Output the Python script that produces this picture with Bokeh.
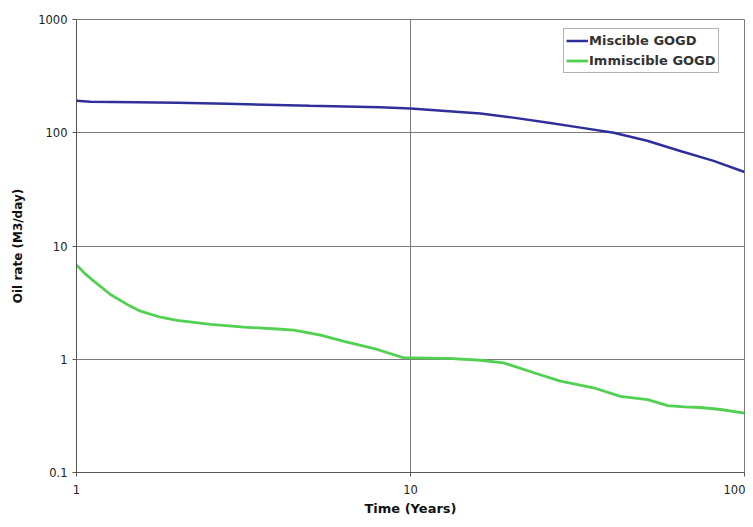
from bokeh.plotting import figure
from bokeh.models import FixedTicker, Legend, LegendItem
from bokeh.embed import file_html
from bokeh.resources import INLINE

# ---- data ----
time_miscible = [1, 1.1, 1.5, 2, 2.83, 5, 8.1, 10, 16.2, 20.3, 25.6, 32.3, 40.6, 51.1, 64.2, 80.8, 100]
oil_miscible = [192, 188, 186, 184, 180, 173, 168, 164, 148, 136, 123, 111, 100, 85, 69, 56.5, 45]

time_immiscible = [1.0, 1.06, 1.127, 1.264, 1.418, 1.554, 1.784, 2.0, 2.52, 3.17, 3.99, 4.47,
                   5.38, 6.32, 7.95, 9.55, 10.0, 13.0, 16.2, 19.0, 23.4, 28.1, 35.3,
                   42.5, 51.3, 58.9, 66.0, 73.8, 84.8, 100.0]
oil_immiscible = [6.8, 5.7, 4.9, 3.73, 3.05, 2.66, 2.35, 2.2, 2.03, 1.92, 1.85, 1.81,
                  1.63, 1.44, 1.22, 1.03, 1.03, 1.02, 0.98, 0.93, 0.76, 0.64, 0.56,
                  0.47, 0.44, 0.39, 0.38, 0.375, 0.36, 0.335]

x_ticks = [1, 10, 100]
x_tick_labels = ["1", "10", "100"]
y_ticks = [0.1, 1, 10, 100, 1000]
y_tick_labels = ["0.1", "1", "10", "100", "1000"]

series_names = ["Miscible GOGD", "Immiscible GOGD"]
x_title = "Time (Years)"
y_title = "Oil rate (M3/day)"

FONT = "DejaVu Sans"
GRID = "#7a7a7a"

p = figure(width=745, height=519, x_axis_type="log", y_axis_type="log",
           x_range=(1, 100), y_range=(0.1, 1000),
           output_backend="svg", toolbar_location=None,
           min_border_left=76, min_border_right=1, min_border_top=19,
           min_border_bottom=47)

p.background_fill_color = "white"
p.border_fill_color = "white"
p.outline_line_color = GRID
p.outline_line_width = 1

l1 = p.line(time_miscible, oil_miscible, line_color="#2f2f9c", line_width=2.5)
l2 = p.line(time_immiscible, oil_immiscible, line_color="#52d052", line_width=2.8)

for ax, ticks, labels in ((p.xaxis[0], x_ticks, x_tick_labels), (p.yaxis[0], y_ticks, y_tick_labels)):
    ax.ticker = FixedTicker(ticks=ticks, minor_ticks=[])
    ax.major_label_overrides = {t: s for t, s in zip(ticks, labels)}
    ax.major_label_text_font = FONT
    ax.major_label_text_font_size = "11.5px"
    ax.major_label_text_color = "#222222"
    ax.axis_label_text_font = FONT
    ax.axis_label_text_font_size = "13px"
    ax.axis_label_text_font_style = "bold"
    ax.axis_label_text_color = "#111111"
    ax.axis_line_color = "#555555"
    ax.major_tick_line_color = "#555555"
    ax.major_tick_out = 4
    ax.major_tick_in = 0
    ax.minor_tick_line_color = None

p.xaxis.axis_label = x_title
p.yaxis.axis_label = y_title
p.yaxis.axis_label_text_font_size = "12px"
p.xaxis.major_label_standoff = 8
p.xaxis.axis_label_standoff = 4
p.yaxis.major_label_standoff = 5
p.yaxis.axis_label_standoff = 10

p.xgrid.ticker = FixedTicker(ticks=x_ticks)
p.ygrid.ticker = FixedTicker(ticks=y_ticks)
p.grid.grid_line_color = GRID
p.grid.grid_line_width = 1

legend = Legend(items=[LegendItem(label=series_names[0], renderers=[l1]),
                       LegendItem(label=series_names[1], renderers=[l2])],
                location=(487, 399))
legend.label_text_font = FONT
legend.label_text_font_size = "13px"
legend.label_text_font_style = "bold"
legend.label_text_color = "#333333"
legend.border_line_color = "#666666"
legend.border_line_width = 1.5
legend.background_fill_alpha = 1
legend.padding = 2
legend.spacing = 1
legend.margin = 0
legend.glyph_width = 22
legend.glyph_height = 19
legend.label_height = 19
legend.label_standoff = 1
p.add_layout(legend, "center")

open("out.html", "w").write(file_html(p, INLINE))
